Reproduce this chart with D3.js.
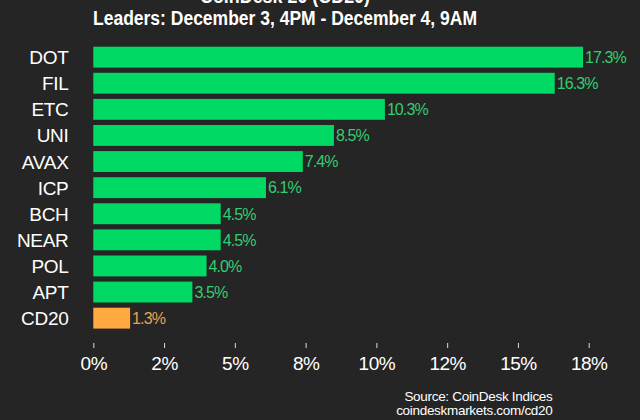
<!DOCTYPE html>
<html><head><meta charset="utf-8">
<script src="https://cdn.jsdelivr.net/npm/d3@7"></script>
<style>html,body{margin:0;padding:0;background:#252525;}svg{display:block;}</style>
</head><body>
<script>
const categories = ["DOT","FIL","ETC","UNI","AVAX","ICP","BCH","NEAR","POL","APT","CD20"];
const values = [17.3,16.3,10.3,8.5,7.4,6.1,4.5,4.5,4.0,3.5,1.3];
const tickValues = [0,2.5,5,7.5,10,12.5,15,17.5];
const tickLabels = ["0%","2%","5%","8%","10%","12%","15%","18%"];
const titleLines = ["CoinDesk 20 (CD20)","Leaders: December 3, 4PM - December 4, 9AM"];
const titleWidths = [170,384];
const sourceLines = ["Source: CoinDesk Indices","coindeskmarkets.com/cd20"];

const W=640,H=420;
const svg=d3.select("body").append("svg").attr("width",W).attr("height",H);
svg.append("rect").attr("width",W).attr("height",H).attr("fill","#252525");

const x=d3.scaleLinear().domain([0,17.5]).range([93.3,588.7]);
const y=d3.scaleBand().domain(categories).range([44.1,331.2]).paddingInner(0.2).paddingOuter(0.1);
const font="'Liberation Sans', Arial, sans-serif";
const green="#00d964", orange="#ffa940";

svg.append("g").selectAll("rect").data(categories).join("rect")
  .attr("x",x(0)).attr("y",d=>y(d))
  .attr("width",(d,i)=>x(values[i])-x(0)).attr("height",y.bandwidth())
  .attr("fill",d=>d==="CD20"?orange:green);

svg.append("g").selectAll("text").data(categories).join("text")
  .attr("x",(d,i)=>x(values[i])+2).attr("y",d=>y(d)+y.bandwidth()/2+5.8)
  .attr("font-family",font).attr("font-size",16).attr("letter-spacing","-0.9px")
  .attr("fill",d=>d==="CD20"?"#e9a24f":"#34cc70")
  .text((d,i)=>values[i].toFixed(1)+"%");

svg.append("g").selectAll("text").data(categories).join("text")
  .attr("x",68.5).attr("y",d=>y(d)+y.bandwidth()/2+7)
  .attr("text-anchor","end").attr("font-family",font).attr("font-size",19)
  .attr("letter-spacing","-0.3px").attr("fill","#ffffff").text(d=>d);

const axis=d3.axisBottom(x).tickValues(tickValues).tickFormat((d,i)=>tickLabels[i]).tickSize(5).tickPadding(9);
const ax=svg.append("g").attr("transform","translate(0,343)").call(axis);
ax.select(".domain").remove();
ax.selectAll(".tick line").attr("stroke","#dddddd");
ax.selectAll(".tick text").attr("font-family",font).attr("font-size",19).attr("letter-spacing","-0.5px").attr("fill","#ffffff");

svg.append("g").selectAll("text").data(titleLines).join("text")
  .attr("x",285).attr("y",(d,i)=>3+i*22).attr("text-anchor","middle")
  .attr("textLength",(d,i)=>titleWidths[i]).attr("lengthAdjust","spacingAndGlyphs")
  .attr("font-family",font)
  .attr("font-weight","bold").attr("font-size",20).attr("fill","#ffffff").text(d=>d);

svg.append("g").selectAll("text").data(sourceLines).join("text")
  .attr("x",552.5).attr("y",(d,i)=>401+i*13.5).attr("text-anchor","end")
  .attr("font-family",font).attr("font-size",13.5).attr("letter-spacing","-0.3px").attr("fill","#ffffff").text(d=>d);
</script>
</body></html>
